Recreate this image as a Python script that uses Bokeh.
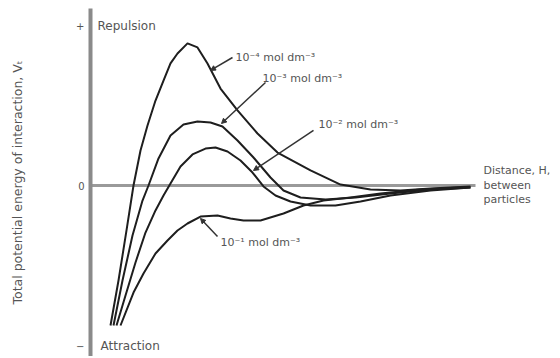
from bokeh.plotting import figure
from bokeh.models import Range1d, FixedTicker, Arrow, NormalHead
from bokeh.core.properties import value
from bokeh.embed import file_html
from bokeh.resources import INLINE

# Distance H (arbitrary units) and total potential energy V_T (arbitrary units)
x_1e4 = [2.0, 2.8, 3.6, 4.3, 5.0, 5.7, 6.5, 7.3, 8.0, 8.7, 9.7, 10.7, 11.7, 13.0, 14.7, 16.7, 18.7, 22.0, 25.0, 28.0, 31.0, 34.0, 38.0]
v_1e4 = [-0.875, -0.594, -0.281, 0.0, 0.219, 0.375, 0.531, 0.656, 0.763, 0.825, 0.888, 0.863, 0.763, 0.606, 0.469, 0.325, 0.206, 0.094, 0.006, -0.025, -0.031, -0.019, -0.006]

x_1e3 = [2.3, 3.2, 4.2, 5.2, 5.8, 6.8, 8.0, 9.3, 10.7, 12.0, 13.2, 14.7, 16.3, 18.0, 19.3, 21.0, 23.5, 26.5, 30.0, 34.0, 38.0]
v_1e3 = [-0.875, -0.594, -0.3125, -0.094, 0.0, 0.169, 0.3125, 0.381, 0.4, 0.394, 0.369, 0.281, 0.175, 0.05, -0.031, -0.075, -0.0875, -0.075, -0.05, -0.025, -0.0125]

x_1e2 = [2.6, 3.5, 4.5, 5.5, 6.5, 7.3, 8.0, 9.0, 10.2, 11.5, 12.5, 13.7, 15.0, 16.2, 17.3, 18.5, 20.0, 22.0, 24.5, 27.0, 30.0, 34.0, 38.0]
v_1e2 = [-0.875, -0.6875, -0.481, -0.294, -0.156, -0.0625, 0.0125, 0.119, 0.194, 0.231, 0.2375, 0.2125, 0.156, 0.081, -0.006, -0.0625, -0.1, -0.125, -0.125, -0.1, -0.0625, -0.031, -0.0125]

x_1e1 = [3.0, 4.3, 5.3, 6.5, 7.7, 8.7, 9.7, 11.0, 12.7, 14.0, 15.3, 17.0, 19.3, 21.3, 23.3, 26.0, 29.0, 33.0, 37.0]
v_1e1 = [-0.875, -0.669, -0.55, -0.425, -0.344, -0.281, -0.2375, -0.194, -0.1875, -0.206, -0.219, -0.219, -0.175, -0.125, -0.094, -0.075, -0.05, -0.025, -0.0125]

series_labels = ["10⁻⁴ mol dm⁻³", "10⁻³ mol dm⁻³", "10⁻² mol dm⁻³", "10⁻¹ mol dm⁻³"]
tick_values = [-1, 0, 1]
tick_labels = ["−", "0", "+"]
zero_line_x = [0.0, 38.5]
zero_line_v = [0.0, 0.0]

FONT = value("DejaVu Sans")
INK = "#1e1e1e"
GREY = "#555555"

p = figure(width=556, height=356, output_backend="svg", toolbar_location=None,
           x_range=Range1d(0, 46.6), y_range=Range1d(-1.06875, 1.10625),
           min_border_left=90, min_border_right=0, min_border_top=8, min_border_bottom=0)
p.outline_line_color = None
p.grid.visible = False
p.xaxis.visible = False

ya = p.yaxis[0]
ya.ticker = FixedTicker(ticks=tick_values)
ya.major_label_overrides = {t: l for t, l in zip(tick_values, tick_labels)}
ya.axis_line_color = "#8a8a8a"
ya.axis_line_width = 4
ya.major_tick_line_color = None
ya.minor_tick_line_color = None
ya.major_tick_out = 0
ya.major_tick_in = 0
ya.major_label_standoff = 6
ya.major_label_text_font = "DejaVu Sans"
ya.major_label_text_font_size = "10px"
ya.major_label_text_color = GREY
ya.axis_label = "Total potential energy of interaction, Vₜ"
ya.axis_label_text_font = "DejaVu Sans"
ya.axis_label_text_font_style = "normal"
ya.axis_label_text_font_size = "12.5px"
ya.axis_label_text_color = GREY
ya.axis_label_standoff = 48

# zero line
p.line(zero_line_x, zero_line_v, line_color="#9a9a9a", line_width=3)

for xs, vs in [(x_1e4, v_1e4), (x_1e3, v_1e3), (x_1e2, v_1e2), (x_1e1, v_1e1)]:
    p.line(xs, vs, line_color=INK, line_width=2, line_join="round")

# annotation positions (label anchor and arrow tip on curve)
lab_x = [14.5, 17.2, 22.8, 13.0]
lab_y = [0.80, 0.669, 0.381, -0.356]
arr_start_x = [14.2, 17.5, 22.3, 12.7]
arr_start_y = [0.80, 0.644, 0.344, -0.319]
arr_end_x = [12.0, 13.1, 16.3, 11.0]
arr_end_y = [0.719, 0.3875, 0.094, -0.206]

p.text(x=lab_x, y=lab_y, text=series_labels, text_font=FONT, text_font_size="11px",
       text_color=GREY, text_align="left", text_baseline="middle")

for sx, sy, ex, ey in zip(arr_start_x, arr_start_y, arr_end_x, arr_end_y):
    p.add_layout(Arrow(end=NormalHead(size=5, fill_color="#333333", line_color="#333333"),
                       x_start=sx, y_start=sy, x_end=ex, y_end=ey,
                       line_color="#333333", line_width=1.5))

p.text(x=[0.7, 1.0], y=[1.0, -1.0], text=["Repulsion", "Attraction"], text_font=FONT,
       text_font_size="12px", text_color=GREY, text_align="left", text_baseline="middle")

p.text(x=[39.3, 39.3, 39.3], y=[0.094, 0.0, -0.0875], text=["Distance, H,", "between", "particles"],
       text_font=FONT, text_font_size="11px", text_color=GREY, text_align="left", text_baseline="middle")

open("out.html", "w").write(file_html(p, INLINE))
